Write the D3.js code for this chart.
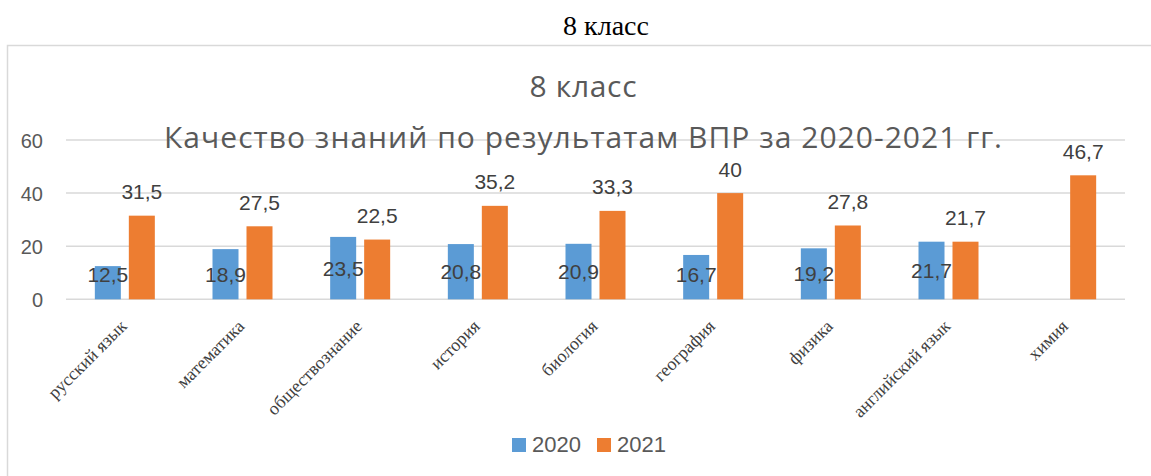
<!DOCTYPE html>
<html><head><meta charset="utf-8">
<script src="https://cdn.jsdelivr.net/npm/d3@7"></script>
<style>body{margin:0;background:#fff}svg{display:block}</style></head>
<body><svg id="c" width="1151" height="476"></svg>
<script>
const categories = ["русский язык","математика","обществознание","история","биология","география","физика","английский язык","химия"];
const values2020 = [12.5, 18.9, 23.5, 20.8, 20.9, 16.7, 19.2, 21.7, null];
const values2021 = [31.5, 27.5, 22.5, 35.2, 33.3, 40, 27.8, 21.7, 46.7];
const seriesNames = ["2020", "2021"];
const yTicks = [0, 20, 40, 60];
const outerTitle = "8 класс";
const titleLines = ["8 класс", "Качество знаний по результатам ВПР за 2020-2021 гг."];

const colors = ["#5B9BD5", "#ED7D31"];
const sans = "'Liberation Sans', Arial, sans-serif";
const titleFont = "'Open Sans', 'Liberation Sans', sans-serif";
const serif = "'Liberation Serif', 'Times New Roman', serif";
const svg = d3.select("#c");

// outer title
svg.append("text").attr("x", 606).attr("y", 35).attr("text-anchor", "middle")
  .attr("font-family", serif).attr("font-size", 28).attr("fill", "#000").text(outerTitle);

// chart frame
svg.append("path").attr("d", "M7.5,476 V45.5 H1151").attr("fill", "none")
  .attr("stroke", "#d9d9d9").attr("stroke-width", 1.5);

const x = d3.scaleBand().domain(categories).range([66, 1125]).padding(0);
const x1 = d3.scaleBand().domain([0, 1]).range([-30, 30]).paddingInner(0.235);
const y = d3.scaleLinear().domain([0, 60]).range([299.3, 140]);

// gridlines
svg.append("g").selectAll("line").data(yTicks).join("line")
  .attr("x1", 66).attr("x2", 1125).attr("y1", d => y(d)).attr("y2", d => y(d))
  .attr("stroke", "#d9d9d9").attr("stroke-width", 1.5);

// y axis labels
const yAxis = d3.axisLeft(y).tickValues(yTicks).tickSize(0).tickPadding(0);
const gy = svg.append("g").attr("transform", "translate(43,0)").call(yAxis);
gy.select(".domain").remove();
gy.selectAll("text").attr("font-family", sans).attr("font-size", 20).attr("fill", "#595959").attr("dy", "0.35em");

// titles
svg.append("text").attr("x", 583).attr("y", 97).attr("text-anchor", "middle")
  .attr("font-family", titleFont).attr("font-size", 30).attr("fill", "#595959")
  .attr("textLength", 107).attr("lengthAdjust", "spacing").text(titleLines[0]);
svg.append("text").attr("x", 583).attr("y", 148).attr("text-anchor", "middle")
  .attr("font-family", titleFont).attr("font-size", 30).attr("fill", "#595959")
  .attr("textLength", 838).attr("lengthAdjust", "spacing").text(titleLines[1]);

// bars
const series = [values2020, values2021];
series.forEach((vals, si) => {
  const data = categories.map((c, i) => ({c, v: vals[i]})).filter(d => d.v != null);
  svg.append("g").selectAll("rect").data(data).join("rect")
    .attr("x", d => x(d.c) + x.bandwidth() / 2 + x1(si))
    .attr("width", x1.bandwidth())
    .attr("y", d => y(d.v))
    .attr("height", d => y(0) - y(d.v))
    .attr("fill", colors[si]);
  svg.append("g").selectAll("text").data(data).join("text")
    .attr("x", d => x(d.c) + x.bandwidth() / 2 + x1(si) + x1.bandwidth() / 2)
    .attr("y", d => si === 0 ? Math.min((y(d.v) + y(0)) / 2, y(0) - 25) + 7.5 : y(d.v) - 16.5)
    .attr("text-anchor", "middle")
    .attr("font-family", sans).attr("font-size", 21).attr("fill", "#404040")
    .text(d => String(d.v).replace(".", ","));
});

// x axis labels
const xAxis = d3.axisBottom(x).tickSize(0).tickPadding(0);
const gx = svg.append("g").attr("transform", `translate(0,${y(0)})`).call(xAxis);
gx.select(".domain").remove();
gx.selectAll("text")
  .attr("font-family", serif).attr("font-size", 18).attr("fill", "#404040")
  .attr("text-anchor", "end").attr("y", 0).attr("dy", 0)
  .attr("transform", "translate(3,28) rotate(-45)");

// legend
const leg = svg.append("g");
const legX = [512, 597];
seriesNames.forEach((n, i) => {
  leg.append("rect").attr("x", legX[i]).attr("y", 438).attr("width", 14).attr("height", 14).attr("fill", colors[i]);
  leg.append("text").attr("x", legX[i] + 20).attr("y", 452).attr("font-family", sans)
    .attr("font-size", 22).attr("fill", "#595959").text(n);
});
</script></body></html>
